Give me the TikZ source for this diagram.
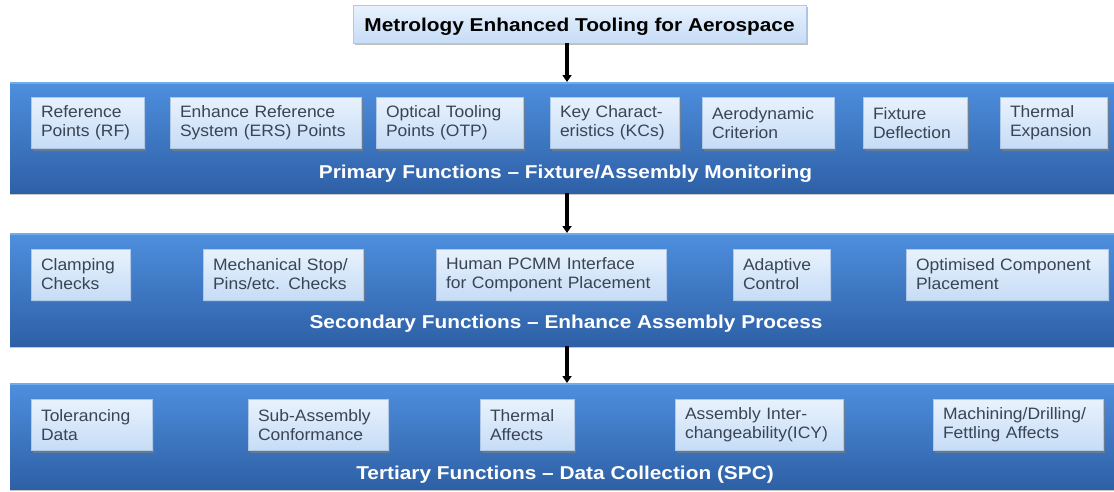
\documentclass[tikz,border=0pt]{standalone}
\usepackage{fontspec}
\setmainfont{Liberation Sans}
\newfontfamily\ibfont[FakeStretch=1.06]{Liberation Sans}
\newfontfamily\hdfont[FakeStretch=1.12]{Liberation Sans}
\usetikzlibrary{shadows,arrows.meta,calc}
\definecolor{bandtop}{RGB}{78,143,222}
\definecolor{bandbot}{RGB}{46,96,166}
\definecolor{bandhl}{RGB}{112,172,236}
\definecolor{boxtop}{RGB}{232,242,253}
\definecolor{boxbot}{RGB}{198,220,246}
\definecolor{boxedge}{RGB}{176,200,230}
\definecolor{boxtext}{RGB}{58,68,84}
\begin{document}
\begin{tikzpicture}[x=1pt,y=-1pt,
  band/.style={rectangle, inner sep=0pt, outer sep=0pt, top color=bandtop, bottom color=bandbot,
    drop shadow={shadow xshift=0pt, shadow yshift=-2pt, opacity=0.45}},
  ibox/.style={rectangle, inner xsep=10pt, inner ysep=0pt, outer sep=0pt, minimum height=51pt,
    top color=boxtop, bottom color=boxbot, draw=boxedge, line width=0.6pt, align=left,
    text=boxtext, font=\ibfont\fontsize{16.5}{19}\selectfont,
    drop shadow={shadow xshift=2pt, shadow yshift=-2pt, opacity=0.65}},
  tbox/.style={rectangle, inner sep=0pt, outer sep=0pt, top color=boxtop, bottom color=boxbot,
    draw=boxedge, line width=0.6pt, text=black, font=\hdfont\bfseries\fontsize{18.6}{22}\selectfont,
    text height=15pt, text depth=0pt,
    drop shadow={shadow xshift=2pt, shadow yshift=-2pt, opacity=0.5}},
  blabel/.style={anchor=base, inner sep=0pt, text=white, font=\hdfont\bfseries\fontsize{18.6}{22}\selectfont},
  conn/.style={line width=3.2pt, black, -{Triangle[length=7pt,width=9pt]}},
  hl/.style={bandhl, line width=2pt}
]
\useasboundingbox (0,0) rectangle (1114,491);

% title
\node[tbox, minimum width=453pt, minimum height=38pt] (title) at (579.5,24) {Metrology Enhanced Tooling for Aerospace};

% bands
\node[band, minimum width=1110pt, minimum height=111pt] (band1) at (565,137.5) {};
\node[band, minimum width=1110pt, minimum height=113pt] (band2) at (565,289.5) {};
\node[band, minimum width=1110pt, minimum height=106pt] (band3) at (565,436) {};
\draw[hl] ([yshift=-1pt]band1.north west) -- ([yshift=-1pt]band1.north east);
\draw[hl] ([yshift=-1pt]band2.north west) -- ([yshift=-1pt]band2.north east);
\draw[hl] ([yshift=-1pt]band3.north west) -- ([yshift=-1pt]band3.north east);

% band labels
\node[blabel] (lab1) at (565.5,178) {Primary Functions – Fixture/Assembly Monitoring};
\node[blabel] (lab2) at (566,328) {Secondary Functions – Enhance Assembly Process};
\node[blabel] (lab3) at (565,479) {Tertiary Functions – Data Collection (SPC)};

% primary boxes
\node[ibox, minimum width=113pt, text width=93pt] (p1) at (87.5,123) {Reference\\Points (RF)};
\node[ibox, minimum width=191pt, text width=171pt] (p2) at (265.5,123) {Enhance Reference\\System (ERS) Points};
\node[ibox, minimum width=147pt, text width=127pt] (p3) at (449.5,123) {Optical Tooling\\Points (OTP)};
\node[ibox, minimum width=129pt, text width=109pt] (p4) at (614.5,123) {Key Charact-\\eristics (KCs)};
\node[ibox, minimum width=132pt, text width=112pt] (p5) at (768,123) {Aerodynamic\\Criterion};
\node[ibox, minimum width=104pt, text width=84pt] (p6) at (915,123) {Fixture\\Deflection};
\node[ibox, minimum width=107pt, text width=87pt] (p7) at (1053.5,123) {Thermal\\Expansion};

% secondary boxes
\node[ibox, minimum width=99pt, text width=79pt] (s1) at (80.5,274.5) {Clamping\\Checks};
\node[ibox, minimum width=160pt, text width=140pt] (s2) at (283,274.5) {Mechanical Stop/\\Pins/etc. Checks};
\node[ibox, minimum width=230pt, text width=210pt] (s3) at (551,274.5) {Human PCMM Interface\\for Component Placement};
\node[ibox, minimum width=97pt, text width=77pt] (s4) at (781.5,274.5) {Adaptive\\Control};
\node[ibox, minimum width=202pt, text width=182pt] (s5) at (1007,274.5) {Optimised Component\\Placement};

% tertiary boxes
\node[ibox, minimum width=121pt, text width=101pt] (t1) at (91.5,425) {Tolerancing\\Data};
\node[ibox, minimum width=140pt, text width=120pt] (t2) at (318,425) {Sub-Assembly\\Conformance};
\node[ibox, minimum width=94pt, text width=74pt] (t3) at (527,425) {Thermal\\Affects};
\node[ibox, minimum width=168pt, text width=148pt] (t4) at (759,425) {Assembly Inter-\\changeability(ICY)};
\node[ibox, minimum width=170pt, text width=150pt] (t5) at (1018,425) {Machining/Drilling/\\Fettling Affects};

% connectors
\coordinate (ax) at (567,0);
\draw[conn] (title.south -| ax) -- (band1.north -| ax);
\draw[conn] (band1.south -| ax) -- (band2.north -| ax);
\draw[conn] (band2.south -| ax) -- (band3.north -| ax);
\end{tikzpicture}
\end{document}
